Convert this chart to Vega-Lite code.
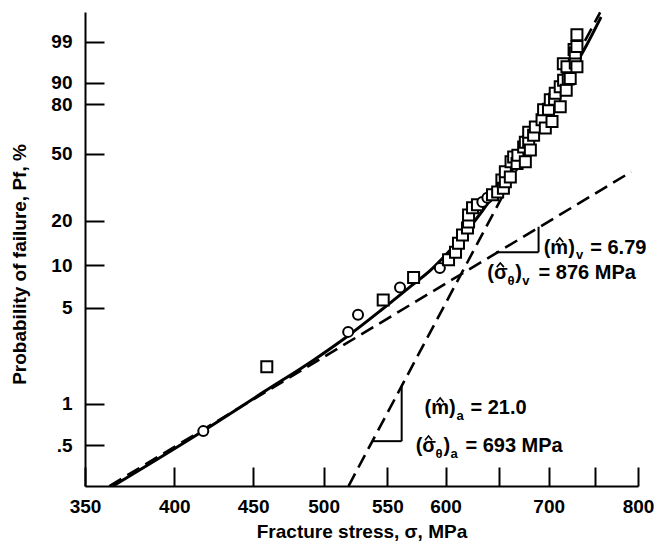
{
  "$schema": "https://vega.github.io/schema/vega-lite/v6.json",
  "width": 553,
  "height": 474,
  "autosize": {"type": "none"},
  "padding": {"left": 85, "top": 12, "right": 33, "bottom": 57},
  "background": "white",
  "config": {
    "view": {"stroke": null},
    "font": "Liberation Sans",
    "axis": {
      "grid": false,
      "domainColor": "black",
      "domainWidth": 2,
      "tickColor": "black",
      "tickWidth": 2,
      "tickSize": -19,
      "labelColor": "black",
      "labelFont": "Liberation Sans",
      "labelFontSize": 19,
      "labelFontWeight": "bold",
      "titleColor": "black",
      "titleFont": "Liberation Sans",
      "titleFontSize": 19,
      "titleFontWeight": "bold"
    }
  },
  "datasets": {
    "points": [
      {"stress": 417.7, "W": -5.06, "shape": "circle"},
      {"stress": 459.3, "W": -3.97, "shape": "square"},
      {"stress": 518.7, "W": -3.38, "shape": "circle"},
      {"stress": 526.4, "W": -3.09, "shape": "circle"},
      {"stress": 546.6, "W": -2.84, "shape": "square"},
      {"stress": 560.5, "W": -2.63, "shape": "circle"},
      {"stress": 572.0, "W": -2.46, "shape": "square"},
      {"stress": 594.9, "W": -2.30, "shape": "circle"},
      {"stress": 602.7, "W": -2.16, "shape": "square"},
      {"stress": 609.0, "W": -2.03, "shape": "square"},
      {"stress": 611.7, "W": -1.88, "shape": "square"},
      {"stress": 615.4, "W": -1.74, "shape": "square"},
      {"stress": 620.0, "W": -1.62, "shape": "square"},
      {"stress": 621.0, "W": -1.52, "shape": "square"},
      {"stress": 621.0, "W": -1.40, "shape": "square"},
      {"stress": 624.7, "W": -1.28, "shape": "square"},
      {"stress": 629.3, "W": -1.23, "shape": "square"},
      {"stress": 633.9, "W": -1.18, "shape": "circle"},
      {"stress": 638.7, "W": -1.11, "shape": "circle"},
      {"stress": 643.6, "W": -1.06, "shape": "square"},
      {"stress": 648.6, "W": -1.01, "shape": "square"},
      {"stress": 652.7, "W": -0.81, "shape": "square"},
      {"stress": 654.2, "W": -0.95, "shape": "square"},
      {"stress": 656.1, "W": -0.84, "shape": "square"},
      {"stress": 656.1, "W": -0.67, "shape": "square"},
      {"stress": 661.0, "W": -0.76, "shape": "square"},
      {"stress": 661.7, "W": -0.50, "shape": "square"},
      {"stress": 664.3, "W": -0.42, "shape": "square"},
      {"stress": 667.7, "W": -0.53, "shape": "square"},
      {"stress": 668.5, "W": -0.39, "shape": "square"},
      {"stress": 674.3, "W": -0.25, "shape": "square"},
      {"stress": 676.0, "W": -0.50, "shape": "square"},
      {"stress": 676.0, "W": -0.17, "shape": "square"},
      {"stress": 679.4, "W": -0.16, "shape": "square"},
      {"stress": 679.4, "W": 0.00, "shape": "square"},
      {"stress": 681.1, "W": -0.30, "shape": "square"},
      {"stress": 684.4, "W": -0.05, "shape": "square"},
      {"stress": 686.2, "W": 0.09, "shape": "square"},
      {"stress": 693.1, "W": 0.21, "shape": "square"},
      {"stress": 694.7, "W": 0.38, "shape": "square"},
      {"stress": 696.5, "W": 0.07, "shape": "square"},
      {"stress": 699.8, "W": 0.39, "shape": "square"},
      {"stress": 701.7, "W": 0.55, "shape": "square"},
      {"stress": 703.5, "W": 0.18, "shape": "square"},
      {"stress": 706.2, "W": 0.56, "shape": "square"},
      {"stress": 706.9, "W": 0.66, "shape": "square"},
      {"stress": 712.2, "W": 0.43, "shape": "square"},
      {"stress": 712.2, "W": 0.77, "shape": "square"},
      {"stress": 715.5, "W": 1.16, "shape": "square"},
      {"stress": 715.8, "W": 0.88, "shape": "square"},
      {"stress": 718.6, "W": 0.71, "shape": "square"},
      {"stress": 719.4, "W": 1.11, "shape": "square"},
      {"stress": 720.8, "W": 0.90, "shape": "square"},
      {"stress": 722.9, "W": 0.91, "shape": "square"},
      {"stress": 727.1, "W": 1.40, "shape": "square"},
      {"stress": 728.4, "W": 1.17, "shape": "square"},
      {"stress": 728.4, "W": 1.34, "shape": "square"},
      {"stress": 730.2, "W": 1.11, "shape": "square"},
      {"stress": 730.2, "W": 1.45, "shape": "square"},
      {"stress": 730.2, "W": 1.65, "shape": "square"}
    ],
    "curve": [
      {"stress": 365, "W": -5.99},
      {"stress": 418, "W": -5.05},
      {"stress": 457, "W": -4.40},
      {"stress": 493, "W": -3.85},
      {"stress": 519, "W": -3.44},
      {"stress": 545, "W": -3.01},
      {"stress": 570, "W": -2.60},
      {"stress": 587, "W": -2.33},
      {"stress": 598, "W": -2.12},
      {"stress": 607, "W": -1.94},
      {"stress": 616, "W": -1.74},
      {"stress": 626, "W": -1.52},
      {"stress": 639, "W": -1.21},
      {"stress": 650, "W": -0.96},
      {"stress": 665, "W": -0.58},
      {"stress": 680, "W": -0.17},
      {"stress": 700, "W": 0.38},
      {"stress": 720, "W": 0.91},
      {"stress": 740, "W": 1.45},
      {"stress": 757, "W": 1.95}
    ],
    "dashV": [
      {"stress": 363, "W": -5.99},
      {"stress": 792, "W": -0.67}
    ],
    "dashA": [
      {"stress": 519, "W": -5.99},
      {"stress": 756, "W": 2.03}
    ],
    "tri": [
      {"stress": 647, "W": -2.03, "stress2": 689.5, "W2": -2.03},
      {"stress": 689.5, "W": -2.03, "stress2": 689.5, "W2": -1.60},
      {"stress": 538, "W": -5.23, "stress2": 561.9, "W2": -5.23},
      {"stress": 561.9, "W": -5.23, "stress2": 561.9, "W2": -4.30}
    ],
    "labels": [
      {"stress": 694.8, "W": -2.062, "text": "(m)"},
      {"stress": 744.9, "W": -2.062, "text": "= 6.79"},
      {"stress": 638.7, "W": -2.485, "text": "(σ"},
      {"stress": 666.0, "W": -2.485, "text": ")"},
      {"stress": 689.5, "W": -2.485, "text": "= 876 MPa"},
      {"stress": 581.5, "W": -4.771, "text": "(m)"},
      {"stress": 622.8, "W": -4.771, "text": "= 21.0"},
      {"stress": 573.8, "W": -5.414, "text": "(σ"},
      {"stress": 598.2, "W": -5.414, "text": ")"},
      {"stress": 618.1, "W": -5.414, "text": "= 693 MPa"}
    ],
    "hats": [
      {"stress": 711.7, "W": -1.825},
      {"stress": 651.2, "W": -2.248},
      {"stress": 595.2, "W": -4.534},
      {"stress": 584.9, "W": -5.177}
    ],
    "subs": [
      {"stress": 729.2, "W": -2.147, "text": "v"},
      {"stress": 658.1, "W": -2.587, "text": "θ"},
      {"stress": 672.9, "W": -2.587, "text": "v"},
      {"stress": 609.9, "W": -4.872, "text": "a"},
      {"stress": 591.1, "W": -5.516, "text": "θ"},
      {"stress": 604.4, "W": -5.516, "text": "a"}
    ]
  },
  "encoding": {
    "x": {
      "field": "stress", "type": "quantitative",
      "scale": {"type": "log", "domain": [350, 800], "nice": false},
      "axis": {
        "values": [350, 400, 450, 500, 550, 600, 650, 700, 750, 800],
        "labelExpr": "datum.value == 650 || datum.value == 750 ? '' : datum.label",
        "labelFlush": false,
        "labelOverlap": false,
        "labelPadding": 30,
        "title": "Fracture stress, σ, MPa",
        "titleY": 45,
        "titleBaseline": "middle"
      }
    },
    "y": {
      "field": "W", "type": "quantitative",
      "scale": {"domain": [-5.989, 2.035], "nice": false, "zero": false},
      "axis": {
        "values": [-5.2958, -4.6002, -2.9702, -2.2504, -1.4999, -0.3665, 0.4759, 0.834, 1.5272],
        "labelExpr": "datum.value < -5 ? '.5' : datum.value < -4 ? '1' : datum.value < -2.5 ? '5' : datum.value < -2 ? '10' : datum.value < -1 ? '20' : datum.value < 0 ? '50' : datum.value < 0.6 ? '80' : datum.value < 1 ? '90' : '99'",
        "labelOverlap": false,
        "labelPadding": 32,
        "title": "Probability of failure, Pf, %",
        "titleX": -66,
        "titleY": 252,
        "titleAngle": 270,
        "titleAlign": "center",
        "titleBaseline": "middle"
      }
    }
  },
  "layer": [
    {
      "data": {"name": "dashV"},
      "mark": {"type": "line", "color": "black", "strokeWidth": 2.6, "strokeDash": [14, 7], "clip": false}
    },
    {
      "data": {"name": "dashA"},
      "mark": {"type": "line", "color": "black", "strokeWidth": 2.6, "strokeDash": [14, 7], "clip": false}
    },
    {
      "data": {"name": "curve"},
      "mark": {"type": "line", "color": "black", "strokeWidth": 3, "interpolate": "monotone", "clip": false}
    },
    {
      "data": {"name": "tri"},
      "mark": {"type": "rule", "color": "black", "strokeWidth": 2},
      "encoding": {
        "x2": {"field": "stress2"},
        "y2": {"field": "W2"}
      }
    },
    {
      "data": {"name": "points"},
      "mark": {"type": "point", "filled": false, "fill": "white", "fillOpacity": 1, "stroke": "black", "strokeWidth": 2, "opacity": 1},
      "encoding": {
        "shape": {"field": "shape", "type": "nominal", "scale": {"domain": ["circle", "square"], "range": ["circle", "square"]}, "legend": null},
        "size": {"field": "shape", "type": "nominal", "scale": {"domain": ["circle", "square"], "range": [100, 121]}, "legend": null}
      }
    },
    {
      "data": {"name": "labels"},
      "mark": {"type": "text", "align": "left", "baseline": "alphabetic", "fontSize": 20, "fontWeight": "bold", "font": "Liberation Sans", "color": "black"},
      "encoding": {"text": {"field": "text"}}
    },
    {
      "data": {"name": "hats"},
      "mark": {"type": "point", "shape": "M-1,0.6L0,-0.6L1,0.6", "size": 50, "filled": false, "stroke": "black", "strokeWidth": 1.6, "opacity": 1}
    },
    {
      "data": {"name": "subs"},
      "mark": {"type": "text", "align": "left", "baseline": "alphabetic", "fontSize": 13, "fontWeight": "bold", "font": "Liberation Sans", "color": "black"},
      "encoding": {"text": {"field": "text"}}
    }
  ]
}
